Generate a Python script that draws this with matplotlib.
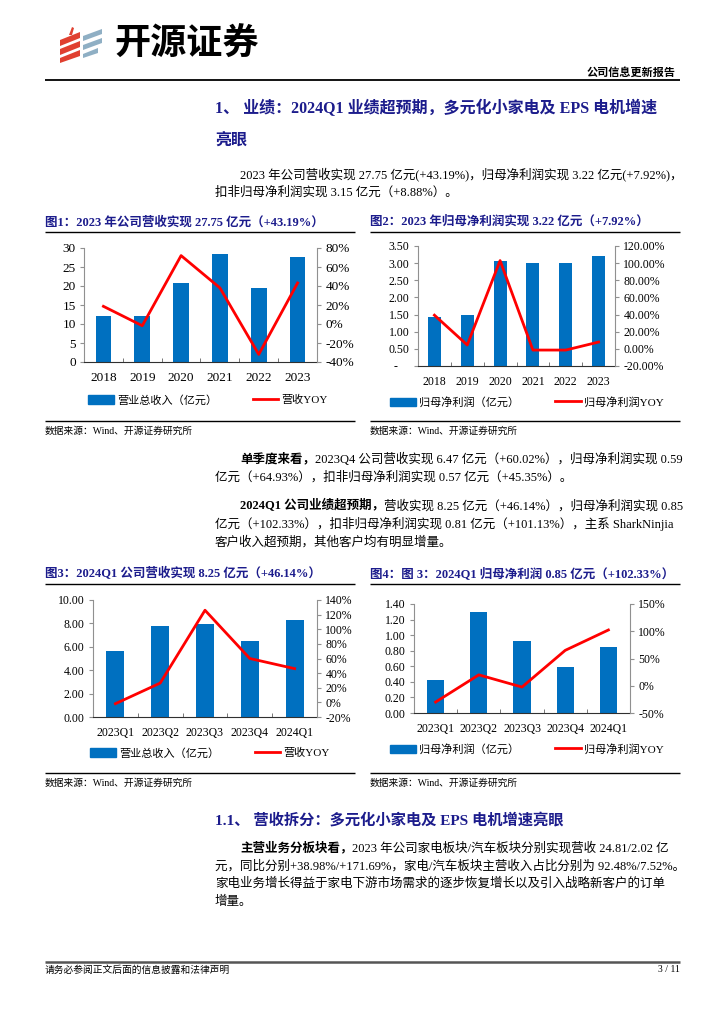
import numpy as np
import matplotlib.pyplot as plt
from matplotlib.patches import Polygon, Patch
from matplotlib.lines import Line2D


W, H = 724, 1024
BLUE = '#0070C0'
RED = '#FF0000'
NAVY = '#1C1C8C'
FAM = ['Liberation Serif', 'Noto Sans CJK SC']

# data
years = ['2018', '2019', '2020', '2021', '2022', '2023']
revenue = [12.2, 12.0, 20.7, 28.35, 19.4, 27.75]
revenue_yoy = [18.6, -1.8, 72.0, 38.0, -32.0, 43.19]
profit = [1.43, 1.48, 3.05, 3.01, 2.99, 3.22]
profit_yoy = [39.3, 4.5, 103.0, -1.4, -1.4, 7.92]

quarters = ['2023Q1', '2023Q2', '2023Q3', '2023Q4', '2024Q1']
q_revenue = [5.68, 7.81, 7.93, 6.47, 8.25]
q_revenue_yoy = [-1.8, 26.4, 126.0, 60.02, 46.14]
q_profit = [0.427, 1.293, 0.922, 0.59, 0.85]
q_profit_yoy = [-29.9, 20.0, -2.4, 64.93, 102.33]

plt.rcParams['font.family'] = FAM
plt.rcParams['axes.unicode_minus'] = False

fig = plt.figure(figsize=(W / 100, H / 100), dpi=100)

# full page layer in pixel coords
bg = fig.add_axes([0, 0, 1, 1])
bg.set_xlim(0, W)
bg.set_ylim(H, 0)
bg.axis('off')


def box(l, t, r, b):
    return [l / W, 1 - b / H, (r - l) / W, (b - t) / H]


def txt(x, y, s, size=9, weight='normal', color='black', ha='left', va='center'):
    return bg.text(x, y, s, fontsize=size, fontweight=weight, color=color,
                   ha=ha, va=va, family=FAM)


def mixed(x, y, bold, rest, size=9):
    t1 = txt(x, y, bold, size=size, weight='bold')
    bg.annotate(rest, xy=(1, 0.5), xycoords=t1, ha='left', va='center',
                fontsize=size, family=FAM)


def hline(x0, x1, y, lw=1.0, color='black'):
    bg.plot([x0, x1], [y, y], color=color, lw=lw, solid_capstyle='butt')


# header / logo
red_bands = [[(60, 40), (80, 32), (80, 38), (60, 46)],
             [(60, 49), (80, 41), (80, 47), (60, 55)],
             [(60, 58), (80, 50), (80, 56), (60, 63)]]
for pts in red_bands:
    bg.add_patch(Polygon(pts, closed=True, color='#E04030', lw=0))
bg.add_patch(Polygon([(69, 35), (72, 27), (74, 28), (72, 35)], closed=True, color='#E04030', lw=0))
grey_bands = [[(83, 36), (102, 29), (102, 34), (83, 41)],
              [(83, 45), (102, 38), (102, 43), (83, 50)],
              [(83, 54), (98, 48), (98, 53), (83, 58)]]
for pts in grey_bands:
    bg.add_patch(Polygon(pts, closed=True, color='#8FAFC4', lw=0))
txt(114, 46, '开源证券', size=26, weight='heavy')
txt(676, 73, '公司信息更新报告', size=8, weight='bold', ha='right')
hline(45, 680, 80, lw=1.3)

# section heading
txt(215, 108, '1、 业绩：2024Q1 业绩超预期，多元化小家电及 EPS 电机增速', size=11.5, weight='bold', color=NAVY)
txt(215, 142, '亮眼', size=11.5, weight='bold', color=NAVY)
txt(240, 174, '2023 年公司营收实现 27.75 亿元(+43.19%)，归母净利润实现 3.22 亿元(+7.92%)，')
txt(215, 192, '扣非归母净利润实现 3.15 亿元（+8.88%）。')

mixed(240, 459, '单季度来看，', '2023Q4 公司营收实现 6.47 亿元（+60.02%），归母净利润实现 0.59')
txt(215, 477, '亿元（+64.93%），扣非归母净利润实现 0.57 亿元（+45.35%）。')
mixed(240, 506, '2024Q1 公司业绩超预期，', '营收实现 8.25 亿元（+46.14%），归母净利润实现 0.85')
txt(215, 524, '亿元（+102.33%），扣非归母净利润实现 0.81 亿元（+101.13%），主系 SharkNinjia')
txt(215, 542, '客户收入超预期，其他客户均有明显增量。')

txt(215, 820, '1.1、 营收拆分：多元化小家电及 EPS 电机增速亮眼', size=11, weight='bold', color=NAVY)
mixed(240, 848, '主营业务分板块看，', '2023 年公司家电板块/汽车板块分别实现营收 24.81/2.02 亿')
txt(215, 866, '元，同比分别+38.98%/+171.69%，家电/汽车板块主营收入占比分别为 92.48%/7.52%。')
txt(215, 884, '家电业务增长得益于家电下游市场需求的逐步恢复增长以及引入战略新客户的订单')
txt(215, 902, '增量。')

# footer
hline(45, 680, 962, lw=1.8, color='#555555')
txt(45, 970, '请务必参阅正文后面的信息披露和法律声明', size=7)
txt(680, 970, '3 / 11', size=7, ha='right')


def chart(rect, cats, bars, yoy, ylim, yticks, yfmt, y2lim, y2ticks, y2fmt,
          bar_label, line_label, leg_xy, title, title_xy, line_y, src_y, x0, x1, fs=8.5):
    ax = fig.add_axes(box(*rect))
    x = np.arange(len(cats))
    ax.bar(x, bars, width=0.4, color=BLUE, zorder=2)
    ax.set_xlim(-0.5, len(cats) - 0.5)
    ax.set_ylim(*ylim)
    ax.set_yticks(yticks)
    ax.set_yticklabels([yfmt(v) for v in yticks])
    ax.set_xticks(x)
    ax.set_xticklabels(cats)
    ax.set_xticks(np.arange(len(cats) + 1) - 0.5, minor=True)
    ax.tick_params(axis='x', which='major', length=0, pad=7, labelsize=fs)
    ax.tick_params(axis='x', which='minor', direction='in', length=3, color='#606060')
    ax.tick_params(axis='y', length=3, color='#909090', labelsize=fs, pad=3)
    ax.spines['top'].set_visible(False)
    ax.spines['left'].set_color('#909090')
    ax.spines['right'].set_visible(False)
    ax.spines['bottom'].set_color('#303030')

    ax2 = ax.twinx()
    ax2.plot(x, yoy, color=RED, lw=2)
    ax2.set_ylim(*y2lim)
    ax2.set_yticks(y2ticks)
    ax2.set_yticklabels([y2fmt(v) for v in y2ticks])
    ax2.tick_params(axis='y', length=3, color='#909090', labelsize=fs, pad=3)
    for s in ['top', 'left', 'bottom']:
        ax2.spines[s].set_visible(False)
    ax2.spines['right'].set_color('#909090')

    handles = [Patch(color=BLUE), Line2D([], [], color=RED, lw=2)]
    fig.legend(handles, [bar_label, line_label], loc='center',
               bbox_to_anchor=(leg_xy[0] / W, 1 - leg_xy[1] / H),
               ncol=2, frameon=False, fontsize=8, handlelength=2.3,
               handleheight=0.75, columnspacing=3.2, handletextpad=0.3)

    txt(title_xy[0], title_xy[1], title, size=9, weight='bold', color=NAVY)
    hline(x0, x1, line_y, lw=1.0)
    hline(x0, x1, src_y - 10, lw=1.0)
    txt(x0, src_y, '数据来源：Wind、开源证券研究所', size=7)


chart((84, 248, 317, 362), years, revenue, revenue_yoy,
      (0, 30), np.arange(0, 31, 5), lambda v: f'{v:.0f}',
      (-40, 80), np.arange(-40, 81, 20), lambda v: f'{v:.0f}%',
      '营业总收入（亿元）', '营收YOY', (208, 400),
      '图1：2023 年公司营收实现 27.75 亿元（+43.19%）', (45, 222), 232, 431, 45, 355, fs=9.5)

chart((418, 246, 615, 366), years, profit, profit_yoy,
      (0, 3.5), np.arange(0, 3.51, 0.5), lambda v: '-    ' if v == 0 else f'{v:.2f}',
      (-20, 120), np.arange(-20, 121, 20), lambda v: f'{v:.2f}%',
      '归母净利润（亿元）', '归母净利润YOY', (527, 402),
      '图2：2023 年归母净利润实现 3.22 亿元（+7.92%）', (370, 222), 232, 431, 370, 680)

chart((93, 600, 317, 717), quarters, q_revenue, q_revenue_yoy,
      (0, 10), np.arange(0, 10.1, 2), lambda v: f'{v:.2f}',
      (-20, 140), np.arange(-20, 141, 20), lambda v: f'{v:.0f}%',
      '营业总收入（亿元）', '营收YOY', (210, 753),
      '图3：2024Q1 公司营收实现 8.25 亿元（+46.14%）', (45, 574), 584, 783, 45, 355)

chart((414, 604, 630, 713), quarters, q_profit, q_profit_yoy,
      (0, 1.4), np.arange(0, 1.41, 0.2), lambda v: f'{v:.2f}',
      (-50, 150), np.arange(-50, 151, 50), lambda v: f'{v:.0f}%',
      '归母净利润（亿元）', '归母净利润YOY', (527, 749),
      '图4：图 3：2024Q1 归母净利润 0.85 亿元（+102.33%）', (370, 574), 584, 783, 370, 680)

fig.savefig('out.png', dpi=100)
